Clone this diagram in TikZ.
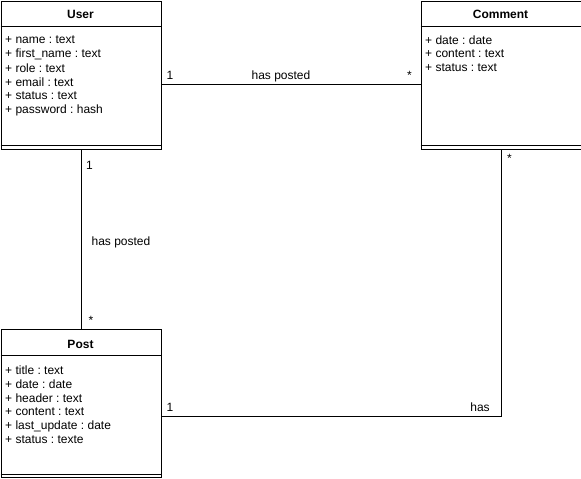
\documentclass[tikz,border=0pt]{standalone}
\usepackage{fontspec}
\setmainfont{Liberation Sans}
\frenchspacing
\begin{document}
\begin{tikzpicture}[x=1pt,y=-1pt,
  cls/.style={draw=black,line width=1pt,fill=white,rectangle,minimum width=160pt,minimum height=148pt,anchor=north west,inner sep=0pt},
  ttl/.style={font=\fontsize{12}{14}\selectfont\bfseries,inner sep=0pt},
  attr/.style={font=\fontsize{12}{14}\selectfont\frenchspacing,anchor=west,inner sep=0pt},
  lbl/.style={font=\fontsize{12}{14}\selectfont,inner sep=0pt,anchor=base},
  conn/.style={draw=black,line width=1pt}]
\useasboundingbox (0,0) rectangle (581,479);
% classes
\node[cls] (user) at (0.5,0.5) {};
\node[cls] (comment) at (420.5,0.5) {};
\node[cls] (post) at (0.5,329) {};
% User
\node[ttl] (usert) at (80.5,14) {User};
\draw[conn] (user.north west) ++(0,26) -- ++(160,0);
\draw[conn] (user.south west) ++(0,-4) -- ++(160,0);
\node[attr] (u1) at (5,40) {+ name : text};
\node[attr] (u2) at (5,54) {+ first\_name : text};
\node[attr] (u3) at (5,68) {+ role : text};
\node[attr] (u4) at (5,82) {+ email : text};
\node[attr] (u5) at (5,96) {+ status : text};
\node[attr] (u6) at (5,110) {+ password : hash};
% Comment
\node[ttl] (commentt) at (500.5,14) {Comment};
\draw[conn] (comment.north west) ++(0,26) -- ++(160,0);
\draw[conn] (comment.south west) ++(0,-4) -- ++(160,0);
\node[attr] (c1) at (425,40) {+ date : date};
\node[attr] (c2) at (425,54) {+ content : text};
\node[attr] (c3) at (425,68) {+ status : text};
% Post
\node[ttl] (postt) at (80.5,344) {Post};
\draw[conn] (post.north west) ++(0,26) -- ++(160,0);
\draw[conn] (post.south west) ++(0,-4) -- ++(160,0);
\node[attr] (p1) at (5,370) {+ title : text};
\node[attr] (p2) at (5,384) {+ date : date};
\node[attr] (p3) at (5,398) {+ header : text};
\node[attr] (p4) at (5,412) {+ content : text};
\node[attr] (p5) at (5,426) {+ last\_update : date};
\node[attr] (p6) at (5,440) {+ status : texte};
% connectors
\draw[conn] (user.east |- 0,84) -- (comment.west |- 0,84);
\draw[conn] (user.south) -- (post.north);
\draw[conn] (post.east |- 0,416) -| (comment.south);
% labels
\node[lbl] (l1) at (170,79) {1};
\node[lbl] (l2) at (281,79.5) {has posted};
\node[lbl] (l3) at (409.5,79) {*};
\node[lbl] (l4) at (89.5,169) {1};
\node[lbl] (l5) at (121,245.5) {has posted};
\node[lbl] (l6) at (91,324.5) {*};
\node[lbl] (l7) at (170,411) {1};
\node[lbl] (l8) at (480,411) {has};
\node[lbl] (l9) at (509.5,162) {*};
\end{tikzpicture}
\end{document}
